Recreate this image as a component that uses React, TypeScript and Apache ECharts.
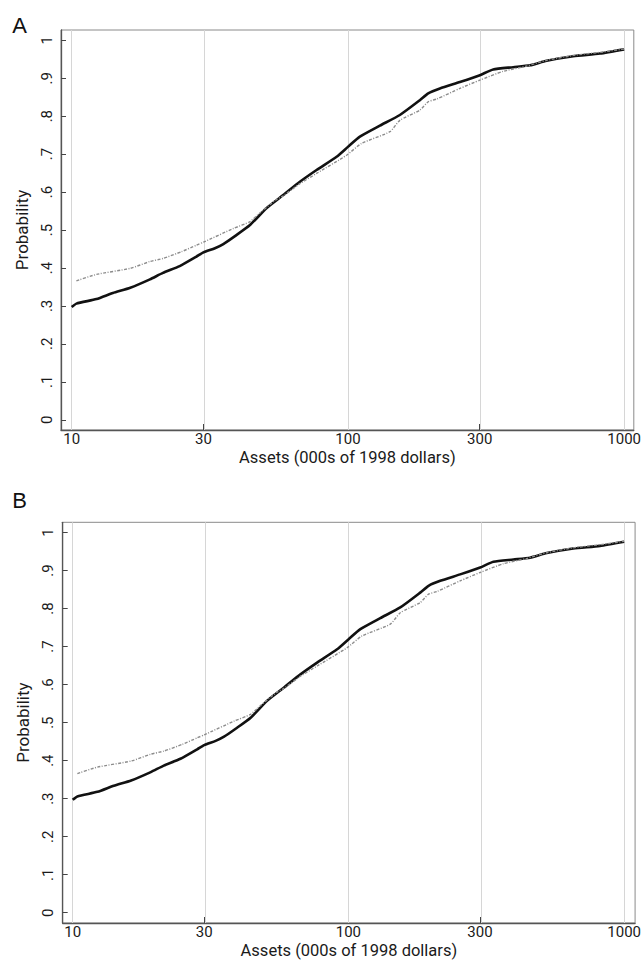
import React, { useEffect, useRef } from "react";
import * as echarts from "echarts";

// Panel A / B data (same curves in both panels), assets in 000s of 1998 dollars
const assetsSolid = [10, 10.4, 12.3, 14.1, 16.3, 19.2, 21.4, 24.6, 28.3, 30, 33, 35.4, 39, 44.2, 50.8, 58.3, 67, 77, 91, 100, 110.5, 130.5, 154.2, 182.2, 195.3, 215.3, 254.3, 300.5, 335.7, 396.6, 455.9, 524, 654, 817, 1000];
const probSolid = [0.297, 0.306, 0.318, 0.334, 0.348, 0.37, 0.387, 0.405, 0.43, 0.441, 0.452, 0.463, 0.484, 0.513, 0.558, 0.592, 0.627, 0.658, 0.693, 0.719, 0.746, 0.775, 0.803, 0.842, 0.86, 0.873, 0.89, 0.908, 0.923, 0.929, 0.934, 0.946, 0.958, 0.965, 0.976];
const assetsDotted = [10.4, 12.3, 16.3, 19.2, 21.4, 25, 28.3, 30, 38.5, 44.2, 48, 55, 58.3, 67, 77, 98.9, 112, 141.9, 154.2, 182.2, 195.3, 209.4, 254.3, 300.5, 364.8, 443.6, 524, 654, 817, 1000];
const probDotted = [0.366, 0.383, 0.399, 0.417, 0.425, 0.443, 0.46, 0.468, 0.504, 0.522, 0.545, 0.58, 0.59, 0.622, 0.649, 0.697, 0.728, 0.759, 0.789, 0.816, 0.838, 0.845, 0.873, 0.895, 0.918, 0.932, 0.947, 0.96, 0.968, 0.977];

const xTicks = [10, 30, 100, 300, 1000];
const yTicks = [0, 0.1, 0.2, 0.3, 0.4, 0.5, 0.6, 0.7, 0.8, 0.9, 1];
const panelLabels = ["A", "B"];
const xTitle = "Assets (000s of 1998 dollars)";
const yTitle = "Probability";

const FONT = "Roboto, 'Liberation Sans', sans-serif";

export default function App() {
  const ref = useRef<HTMLDivElement>(null);
  useEffect(() => {
    document.body.style.margin = "0";
    if (!ref.current) return;
    const chart = echarts.init(ref.current, undefined, { renderer: "svg" });

    const panels = [
      { left: 61, top: 30, right: 10, height: 400, xmin: 0.9613, xmax: 3.035, labelY: 25.5 },
      { left: 62.7, top: 522.3, right: 6.3, height: 400.7, xmin: 0.9639, xmax: 3.0397, labelY: 500 },
    ];

    const solid = assetsSolid.map((a, i) => [Math.log10(a), probSolid[i]]);
    const dotted = assetsDotted.map((a, i) => [Math.log10(a), probDotted[i]]);
    const xTickVals = xTicks.map((t) => Math.log10(t));

    const grids: any[] = [];
    const xAxes: any[] = [];
    const yAxes: any[] = [];
    const series: any[] = [];
    const graphics: any[] = [];

    panels.forEach((p, k) => {
      grids.push({
        left: p.left,
        top: p.top,
        right: p.right,
        height: p.height,
        show: true,
        borderColor: "#8a8a8a",
        borderWidth: 1,
        containLabel: false,
      });
      xAxes.push({
        type: "value",
        gridIndex: k,
        min: p.xmin,
        max: p.xmax,
        name: xTitle,
        nameLocation: "middle",
        nameGap: 19.5,
        nameTextStyle: { fontFamily: FONT, fontSize: 16.5, lineHeight: 16.5, color: "#1a1a1a" },
        axisLine: { show: true, onZero: false, lineStyle: { color: "#555", width: 1.3 } },
        axisTick: { show: true, inside: true, length: 6, customValues: xTickVals, lineStyle: { color: "#444", width: 1 } },
        axisLabel: {
          customValues: xTickVals,
          formatter: (v: number) => String(Math.round(Math.pow(10, v))),
          fontFamily: FONT,
          fontSize: 15,
          lineHeight: 15,
          color: "#1a1a1a",
          margin: 1,
        },
        splitLine: { show: false },
      });
      yAxes.push({
        type: "value",
        gridIndex: k,
        min: -0.027,
        max: 1.027,
        name: yTitle,
        nameLocation: "middle",
        nameGap: 31,
        nameRotate: 90,
        nameTextStyle: { fontFamily: FONT, fontSize: 17, color: "#1a1a1a" },
        axisLine: { show: true, onZero: false, lineStyle: { color: "#555", width: 1.3 } },
        axisTick: { show: true, inside: true, length: 5, customValues: yTicks, lineStyle: { color: "#444", width: 1 } },
        axisLabel: {
          customValues: yTicks,
          rotate: 90,
          formatter: (v: number) => (v === 0 ? "0" : v === 1 ? "1" : "." + Math.round(v * 10)),
          fontFamily: FONT,
          fontSize: 15,
          color: "#1a1a1a",
          margin: 7,
        },
        splitLine: { show: false },
      });
      series.push({
        type: "line",
        xAxisIndex: k,
        yAxisIndex: k,
        data: solid,
        showSymbol: false,
        symbol: "none",
        smooth: 0.2,
        lineStyle: { color: "#111", width: 2.6 },
        z: 3,
        markLine: {
          silent: true,
          symbol: "none",
          label: { show: false },
          lineStyle: { color: "#d6d6d6", width: 1, type: "solid" },
          data: xTickVals.map((v) => ({ xAxis: v })),
          z: 1,
        },
      });
      series.push({
        type: "line",
        xAxisIndex: k,
        yAxisIndex: k,
        data: dotted,
        showSymbol: false,
        symbol: "none",
        smooth: 0.2,
        lineStyle: { color: "#8c8c8c", width: 1.4, type: [3, 1.5, 1, 1.5] },
        z: 4,
      });
      graphics.push({
        type: "text",
        x: 19.5,
        y: p.labelY,
        style: {
          text: panelLabels[k],
          font: "22px 'Liberation Sans', Arial, sans-serif",
          fill: "#111",
          align: "center",
          verticalAlign: "middle",
        },
      });
    });

    chart.setOption({
      animation: false,
      backgroundColor: "#fff",
      grid: grids,
      xAxis: xAxes,
      yAxis: yAxes,
      series,
      graphic: graphics,
    });
    return () => chart.dispose();
  }, []);
  return <div ref={ref} style={{ width: 644, height: 963 }} />;
}
